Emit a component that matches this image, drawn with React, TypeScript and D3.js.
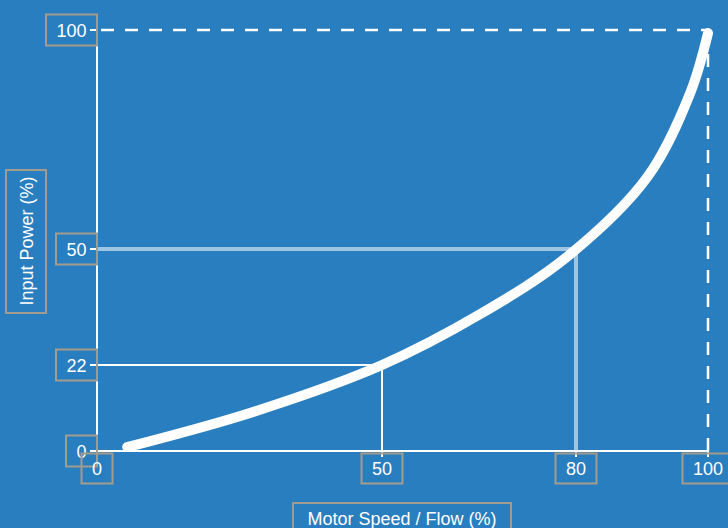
import React from "react";
import * as d3 from "d3";

const xTicks = [0, 50, 80, 100];
const yTicks = [0, 22, 50, 100];
const speed = [5.3, 27.4, 50, 65.2, 78.6, 90.8, 97.3, 100];
const power = [1.0, 10.0, 22, 34.3, 48.1, 66.4, 85.6, 99.3];
const xTitle = "Motor Speed / Flow (%)";
const yTitle = "Input Power (%)";

const W = 728;
const H = 528;
const BG = "#287ebe";
const BOX = "#a39c8c";
const FONT = "'Liberation Sans', Arial, sans-serif";

export default function App() {
  const x = d3.scaleLinear().domain([0, 50, 80, 100]).range([97, 382, 576, 708]);
  const y = d3.scaleLinear().domain([0, 22, 50, 100]).range([451, 365, 249, 30]);
  const pts: [number, number][] = speed.map((s, i) => [x(s), y(power[i])]);
  const line = d3.line().curve(d3.curveCatmullRom.alpha(0.5))(pts) || "";
  const x0 = x(0);
  const y0 = y(0);
  const boxW = (t: string) => t.length * 10 + 21;

  return (
    <svg
      width={W}
      height={H}
      style={{ position: "fixed", left: 0, top: 0, display: "block" }}
      fontFamily={FONT}
    >
      <rect width={W} height={H} fill={BG} />
      {/* dashed frame */}
      <line x1={x0} x2={x(100)} y1={y(100)} y2={y(100)} stroke="#fff" strokeWidth={2.5} strokeDasharray="13,11" strokeDashoffset={-4} />
      <line x1={x(100)} x2={x(100)} y1={y(100)} y2={y0} stroke="#fff" strokeWidth={2.5} strokeDasharray="13,11" />
      {/* guide lines */}
      <polyline
        points={`${x0},${y(50)} ${x(80)},${y(50)} ${x(80)},${y0}`}
        fill="none"
        stroke="rgba(255,255,255,0.55)"
        strokeWidth={4}
      />
      <polyline
        points={`${x0},${y(22)} ${x(50)},${y(22)} ${x(50)},${y0}`}
        fill="none"
        stroke="#fff"
        strokeWidth={2}
      />
      {/* axes */}
      <line x1={x0} x2={x0} y1={y(100)} y2={y0 + 1} stroke="#fff" strokeWidth={2} />
      <line x1={x0} x2={x(100)} y1={y0} y2={y0} stroke="#fff" strokeWidth={2} />
      {yTicks.map((t) => (
        <line key={"yt" + t} x1={x0 - 7} x2={x0} y1={y(t)} y2={y(t)} stroke="#fff" strokeWidth={2} />
      ))}
      {xTicks.map((t) => (
        <line key={"xt" + t} x1={x(t)} x2={x(t)} y1={y0} y2={y0 + 6} stroke="#fff" strokeWidth={2} />
      ))}
      {/* curve */}
      <path d={line} fill="none" stroke="#fff" strokeWidth={10} strokeLinecap="round" />
      {/* y tick labels */}
      {yTicks.map((t) => {
        const lbl = String(t);
        const bw = boxW(lbl);
        return (
          <g key={"yl" + t}>
            <rect x={x0 - bw} y={y(t) - 15.5} width={bw} height={31} fill="none" stroke={BOX} strokeWidth={2} />
            <text x={x0 - bw / 2} y={y(t) + 6.5} textAnchor="middle" fill="#fff" fontSize={18}>
              {lbl}
            </text>
          </g>
        );
      })}
      {/* x tick labels */}
      {xTicks.map((t) => {
        const lbl = String(t);
        const bw = boxW(lbl);
        return (
          <g key={"xl" + t}>
            <rect x={x(t) - bw / 2} y={y0 + 2.5} width={bw} height={30} fill="none" stroke={BOX} strokeWidth={2} />
            <text x={x(t)} y={y0 + 24} textAnchor="middle" fill="#fff" fontSize={18}>
              {lbl}
            </text>
          </g>
        );
      })}
      {/* axis titles */}
      <rect x={293} y={503} width={218} height={31} fill="none" stroke={BOX} strokeWidth={2} />
      <text x={402} y={525} textAnchor="middle" fill="#fff" fontSize={18}>
        {xTitle}
      </text>
      <rect x={6} y={170} width={40} height={143} fill="none" stroke={BOX} strokeWidth={2} />
      <text transform="translate(33,241) rotate(-90)" textAnchor="middle" fill="#fff" fontSize={18}>
        {yTitle}
      </text>
    </svg>
  );
}
